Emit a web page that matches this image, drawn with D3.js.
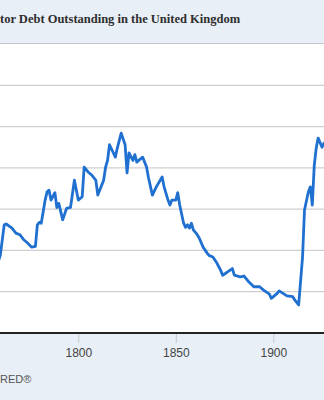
<!DOCTYPE html>
<html>
<head>
<meta charset="utf-8">
<script src="https://cdn.jsdelivr.net/npm/d3@7"></script>
<style>
  html, body { margin: 0; padding: 0; background: #e9eff7; }
  svg { display: block; }
</style>
</head>
<body>
<div id="chart"></div>
<script>
const WIDTH = 324;
const HEIGHT = 400;

// (percent, gridlines every 50)
const years = [1758, 1760, 1762, 1763, 1766, 1768, 1770, 1772, 1774, 1776, 1778, 1779, 1780, 1781,
  1783, 1784, 1785, 1786, 1788, 1789, 1790, 1792, 1794, 1796, 1798, 1800, 1802, 1803, 1805, 1807,
  1809, 1810, 1813, 1814, 1815, 1816, 1819, 1820, 1822, 1824, 1825, 1826, 1828, 1829, 1830, 1831,
  1833, 1835, 1836, 1838, 1840, 1843, 1844, 1846, 1847, 1848, 1850, 1851, 1852, 1854, 1855, 1856,
  1857, 1858, 1859, 1861, 1862, 1864, 1866, 1867, 1869, 1871, 1873, 1874, 1876, 1879, 1880, 1883,
  1885, 1887, 1890, 1893, 1895, 1898, 1899, 1902, 1903, 1905, 1907, 1910, 1911, 1913, 1915, 1916,
  1918, 1919, 1920, 1921, 1922, 1923, 1925, 1926, 1927];
const debt = [80, 94, 131, 132, 127, 121, 119, 113, 109, 104, 105, 131, 134, 133,
  161, 171, 173, 161, 170, 152, 157, 137, 151, 152, 185, 161, 165, 201, 195, 191,
  185, 167, 185, 201, 209, 228, 213, 224, 242, 228, 194, 218, 209, 216, 207, 209,
  213, 201, 188, 167, 177, 189, 177, 161, 155, 161, 161, 170, 155, 133, 128, 131,
  127, 133, 125, 119, 115, 104, 97, 94, 92, 85, 76, 70, 73, 78, 70, 68,
  69, 63, 56, 56, 52, 47, 42, 48, 51, 48, 45, 44, 40, 34, 92, 149,
  171, 177, 155, 203, 224, 236, 225, 230, 228];

const xTicks = [1800, 1850, 1900];
const yGrid = [50, 100, 150, 200, 250, 300];

const data = years.map((y, i) => ({ year: y, value: debt[i] }));

const svg = d3.select("#chart")
  .append("svg")
  .attr("width", WIDTH)
  .attr("height", HEIGHT);

// header band
svg.append("rect")
  .attr("x", 0).attr("y", 0)
  .attr("width", WIDTH).attr("height", 43)
  .attr("fill", "#e9eff7");
svg.append("line")
  .attr("x1", 0).attr("x2", WIDTH)
  .attr("y1", 43.5).attr("y2", 43.5)
  .attr("stroke", "#c4c7cb").attr("stroke-width", 1);

// title as it shows in the cropped reference
svg.append("text")
  .attr("x", 0).attr("y", 23)
  .style("font-family", "'Liberation Serif', 'DejaVu Serif', serif")
  .style("font-weight", "bold")
  .style("font-size", "12.5px")
  .style("fill", "#2e2e2e")
  .text("tor Debt Outstanding in the United Kingdom");

// plot area
const x = d3.scaleLinear().domain([1800, 1900]).range([78.3, 273.3]);
const y = d3.scaleLinear().domain([0, 350]).range([333, 44]);

svg.append("rect")
  .attr("x", 0).attr("y", 44)
  .attr("width", WIDTH).attr("height", 289)
  .attr("fill", "#fff");

svg.append("g")
  .selectAll("line")
  .data(yGrid)
  .enter()
  .append("line")
  .attr("x1", 0).attr("x2", WIDTH)
  .attr("y1", d => y(d)).attr("y2", d => y(d))
  .attr("stroke", "#cfcfcf")
  .attr("stroke-width", 1.2);

const line = d3.line()
  .x(d => x(d.year))
  .y(d => y(d.value));

svg.append("path")
  .datum(data)
  .attr("d", line)
  .attr("fill", "none")
  .attr("stroke", "#1f70d0")
  .attr("stroke-width", 2.8)
  .attr("stroke-linejoin", "round");

// bottom band + axis
svg.append("rect")
  .attr("x", 0).attr("y", 334)
  .attr("width", WIDTH).attr("height", HEIGHT - 334)
  .attr("fill", "#e9eff7");

const xAxis = svg.append("g")
  .attr("transform", "translate(0,333)")
  .call(d3.axisBottom(x).tickValues(xTicks).tickFormat(d3.format("d")).tickSize(10).tickPadding(5));
xAxis.select(".domain").remove();
xAxis.selectAll(".tick line").attr("stroke", "#c8c8c8");
xAxis.selectAll(".tick text")
  .style("font-family", "'Liberation Sans', Arial, sans-serif")
  .style("font-size", "12px")
  .style("fill", "#444");

svg.append("line")
  .attr("x1", 0).attr("x2", WIDTH)
  .attr("y1", 333).attr("y2", 333)
  .attr("stroke", "#222").attr("stroke-width", 2);

svg.append("text")
  .attr("x", 0).attr("y", 383)
  .style("font-family", "'Liberation Sans', Arial, sans-serif")
  .style("font-size", "11px")
  .style("fill", "#555")
  .text("RED\u00ae");
</script>
</body>
</html>
